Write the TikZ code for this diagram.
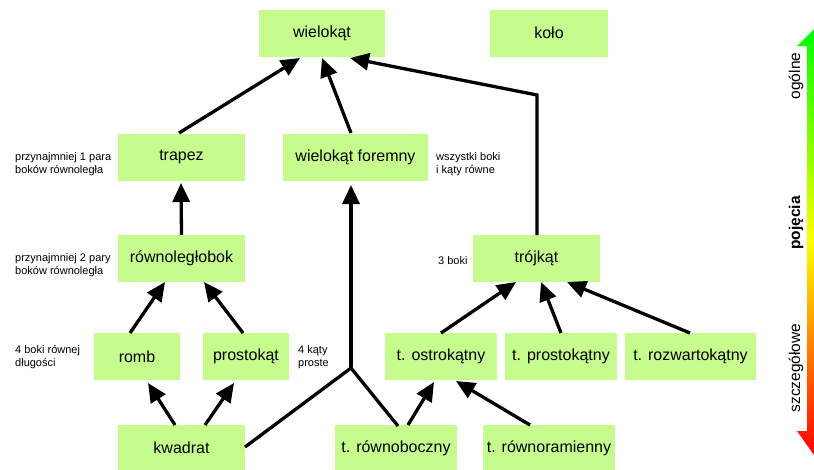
\documentclass[tikz,border=0pt]{standalone}
\usepackage{fontspec}
\setmainfont{Liberation Sans}
\usetikzlibrary{arrows.meta}
\definecolor{boxgreen}{HTML}{C6FC8E}
\begin{document}
\begin{tikzpicture}[x=1pt,y=-1pt,
  box/.style={draw=none,fill=boxgreen,minimum height=47pt,font=\fontsize{16}{18}\selectfont,inner sep=0pt},
  note/.style={font=\fontsize{11}{13.5}\selectfont,align=left,inner sep=0pt,anchor=west},
  conn/.style={line width=3.3pt,-{Triangle[length=19pt,width=17pt]}},
  plain/.style={line width=3.3pt},
  scalelabel/.style={rotate=90,font=\fontsize{15.5}{17}\selectfont}]
\clip (0,0) rectangle (814,469);
\useasboundingbox (0,0) rectangle (814,469);
\fill[white] (0,0) rectangle (814,469);
% boxes
\node[box,minimum width=126pt] (wiel) at (322,33) {wielokąt};
\node[box,minimum width=118pt] (kolo) at (549,33) {koło};
\node[box,minimum width=127pt] (trap) at (181.5,157) {trapez};
\node[box,minimum width=145pt] (wf) at (355.5,157) {wielokąt foremny};
\node[box,minimum width=127pt] (rown) at (181.5,258.5) {równoległobok};
\node[box,minimum width=127pt] (troj) at (536.5,258.5) {trójkąt};
\node[box,minimum width=86pt] (romb) at (137,356.5) {romb};
\node[box,minimum width=86pt] (prost) at (246,356.5) {prostokąt};
\node[box,minimum width=112pt] (tostr) at (441,356.5) {t. ostrokątny};
\node[box,minimum width=112pt] (tprost) at (561,356.5) {t. prostokątny};
\node[box,minimum width=131pt] (troz) at (690.5,356.5) {t. rozwartokątny};
\node[box,minimum width=127pt] (kwad) at (181.5,448) {kwadrat};
\node[box,minimum width=122pt] (trb) at (396,448) {t. równoboczny};
\node[box,minimum width=132pt] (trr) at (549,448) {t. równoramienny};
% notes
\node[note] (n1) at (15,164) {przynajmniej 1 para\\boków równoległa};
\node[note] (n2) at (15,265) {przynajmniej 2 pary\\boków równoległa};
\node[note] (n3) at (15,357) {4 boki równej\\długości};
\node[note] (n4) at (298,357) {4 kąty\\proste};
\node[note] (n5) at (436,164) {wszystki boki\\i kąty równe};
\node[note] (n6) at (438,261) {3 boki};
% helper coordinates
\coordinate (j) at (351,368);
\coordinate (tb) at (537,95);
% connectors
\draw[conn] (179,133) -- (300,58);
\draw[conn] (351,133) -- (322,58);
\draw[conn] (537,235) -- (tb) -- (350,58);
\draw[conn] (rown.north) -- (181,183);
\draw[conn] (130,333) -- (165,282);
\draw[conn] (243,333) -- (204,282);
\draw[conn] (175,425) -- (148,383);
\draw[conn] (205,425) -- (234,383);
\draw[plain] (245,447) -- (j) -- (398,426);
\draw[conn] ([yshift=1.5pt]j) -- (351,185);
\draw[conn] (408,425) -- (434,382);
\draw[conn] (530,425) -- (456,381);
\draw[conn] (441,333) -- (516,282);
\draw[conn] (561,333) -- (541,282);
\draw[conn] (690,333) -- (567,282);
% gradient scale
\shade[top color=green, bottom color=red, middle color=yellow]
  (814,29) -- (831,46) -- (821,46) -- (821,431) -- (831,431) -- (814,455) -- (797,431) -- (807,431) -- (807,46) -- (797,46) -- cycle;
\node[scalelabel] (og) at (796,76) {ogólne};
\node[scalelabel,font=\bfseries\fontsize{15.5}{17}\selectfont] (po) at (796,223) {pojęcia};
\node[scalelabel] (sz) at (796,368) {szczegółowe};
\end{tikzpicture}
\end{document}
